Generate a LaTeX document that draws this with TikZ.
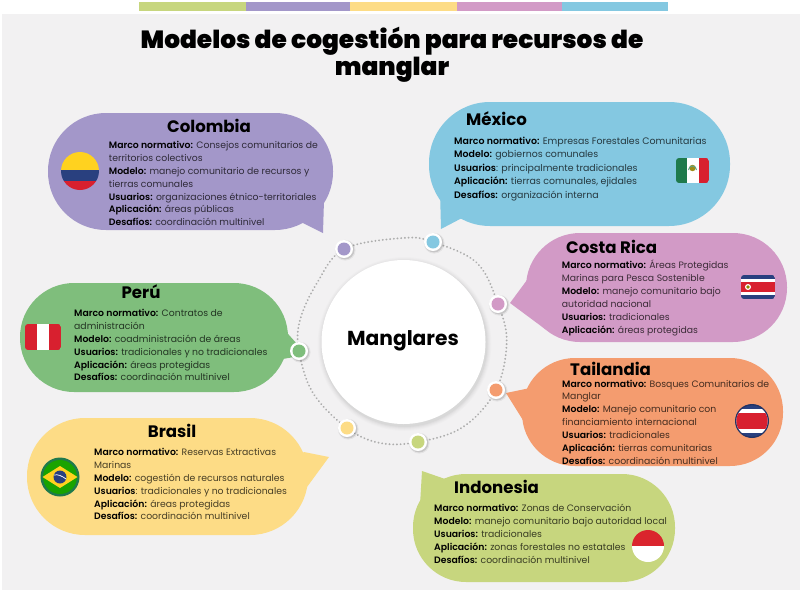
\documentclass[tikz,border=0pt]{standalone}
\usepackage{fontspec}
\setmainfont{Poppins}[BoldFont={Poppins SemiBold}]
\newfontfamily\heavyfont{Poppins Black}
\newfontfamily\headfont{Poppins Bold}
\definecolor{bgc}{HTML}{F2F1F2}
\definecolor{cpur}{HTML}{A397C9}
\definecolor{cblu}{HTML}{84C8E1}
\definecolor{cpin}{HTML}{D29AC6}
\definecolor{cora}{HTML}{F49C6F}
\definecolor{clim}{HTML}{C7D67E}
\definecolor{cyel}{HTML}{FDDC86}
\definecolor{cgre}{HTML}{7FBE7C}
\definecolor{flagred}{HTML}{D8202F}
\definecolor{flagblu}{HTML}{29407F}
\definecolor{flaggre}{HTML}{1F7A4C}
\definecolor{flagyel}{HTML}{FFD21F}
\newcommand\lb[1]{\textcolor{black}{\textbf{#1}}}
\tikzset{
  bubble/.style={inner sep=0pt,draw=none},
  head/.style={font=\headfont\fontsize{16.6}{18}\selectfont,text=black,anchor=mid,inner sep=0pt},
  body/.style={font=\fontsize{9.3}{12.88}\selectfont,align=left,anchor=north west,inner sep=0pt,text=#1!28!black},
  marker/.style={circle,fill=white,inner sep=0pt,minimum size=18pt},
  dotcore/.style={circle,fill=#1,inner sep=0pt,minimum size=13pt},
}
\newcommand\mkr[4]{% name colour x y
  \fill[black,opacity=.06] (#3+1.2,#4+1.2) circle[radius=10.4];
  \fill[black,opacity=.12] (#3+1,#4+1) circle[radius=9.4];
  \node[marker] (#1) at (#3,#4) {};
  \node[dotcore=#2] (#1c) at (#3,#4) {};
}
\begin{document}
\begin{tikzpicture}[x=1pt,y=-1pt]
\useasboundingbox (0,0) rectangle (800,592);
\fill[white] (0,0) rectangle (800,592);
\fill[bgc] (2,13.5) rectangle (800,590);
% top band
\fill[clim] (138.6,2) rectangle (245.7,10.7);
\fill[cpur] (245.7,2) rectangle (349.6,10.7);
\fill[cyel] (349.6,2) rectangle (457,10.7);
\fill[cpin] (457,2) rectangle (561.8,10.7);
\fill[cblu] (561.8,2) rectangle (668,10.7);
\node[font=\heavyfont\fontsize{24.85}{27}\selectfont,align=center,inner sep=0pt,text=black] (title) at (392,54.5) {Modelos de cogestión para recursos de\\manglar};
% bubbles
\node[bubble,fill=cpur,rounded corners=58pt,minimum width=285pt,minimum height=117pt] (colombia) at (190.5,171.5) {};
\fill[cpur] (324,200) -- (323,233) -- (303,223) -- (290,215) -- cycle;
\node[bubble,fill=cblu,rounded corners=61pt,minimum width=301pt,minimum height=124pt] (mexico) at (579.5,164) {};
\fill[cblu] (440,190) -- (441,229) -- (462,218) -- (480,205) -- cycle;
\node[bubble,fill=cpin,rounded corners=54pt,minimum width=261pt,minimum height=109pt] (costarica) at (656.5,287.5) {};
\fill[cpin] (527,280) -- (510,303) -- (545,329) -- (550,290) -- cycle;
\node[bubble,fill=cora,rounded corners=53pt,minimum width=261pt,minimum height=108pt] (tailandia) at (652.5,412) {};
\fill[cora] (535,387) -- (506,393) -- (526,425) -- (550,410) -- cycle;
\node[bubble,fill=clim,rounded corners=53pt,minimum width=262pt,minimum height=108pt] (indonesia) at (544,528) {};
\fill[clim] (448,480) -- (422,471) -- (420,505) -- (440,510) -- cycle;
\node[bubble,fill=cyel,rounded corners=58pt,minimum width=281pt,minimum height=117pt] (brasil) at (167.5,476.5) {};
\fill[cyel] (304,452) -- (329,457) -- (307,487) -- (285,470) -- cycle;
\node[bubble,fill=cgre,rounded corners=54pt,minimum width=268pt,minimum height=109pt] (peru) at (154,337.5) {};
\fill[cgre] (280,325) -- (298,345) -- (294,357) -- (277,360) -- (260,340) -- cycle;
% ring
\coordinate (r1) at (403,238); \coordinate (r2) at (477,263); \coordinate (r3) at (506.7,342);
\coordinate (r4) at (463,427); \coordinate (r5) at (380,443); \coordinate (r6) at (313,393);
\coordinate (r7) at (300,320); \coordinate (r8) at (317,283);
\coordinate (pmex) at (433,242); \coordinate (pcr) at (498,304); \coordinate (ptai) at (496,390);
\coordinate (pind) at (418,442); \coordinate (pbra) at (347,428); \coordinate (pper) at (299,351);
\coordinate (pcol) at (344,249);
\draw[black!32,line width=2pt,line cap=round,dash pattern=on 0.1pt off 3.6pt]
  plot[smooth cycle,tension=.6] coordinates {(r1) (pmex) (r2) (pcr) (r3) (ptai) (r4) (pind) (r5) (pbra) (r6) (pper) (r7) (r8) (pcol)};
% centre
\foreach \r/\o in {87/.012,86/.015,85/.02,84/.025,83/.03}{\fill[black,opacity=\o] (404.5,344) circle[radius=\r];}
\node[circle,fill=white,inner sep=0pt,minimum size=164pt] (centre) at (403.5,342) {};
\node[font=\headfont\fontsize{20.2}{22}\selectfont,text=black,anchor=mid,inner sep=0pt] (manglares) at (403,343) {Manglares};
% markers
\mkr{mcol}{cpur}{344}{249}
\mkr{mmex}{cblu}{433}{242}
\mkr{mcr}{cpin}{498}{304}
\mkr{mtai}{cora}{496}{390}
\mkr{mind}{clim}{418}{442}
\mkr{mbra}{cyel}{347}{428}
\mkr{mper}{cgre}{299}{351}
% titles
\node[head] (tcol) at (209,130) {Colombia};
\node[head,anchor=mid west] (tmex) at (466,123) {México};
\node[head,anchor=mid west] (tcr) at (566,251) {Costa Rica};
\node[head] (tper) at (141,296) {Perú};
\node[head] (tbra) at (172,435) {Brasil};
\node[head,anchor=mid west] (ttai) at (570,373) {Tailandia};
\node[head,anchor=mid west] (tind) at (454,491) {Indonesia};
% body
\node[body=cpur] (bcol) at (108.7,141) {\lb{Marco normativo:} Consejos comunitarios de\\territorios colectivos\\\lb{Modelo:} manejo comunitario de recursos y\\tierras comunales\\\lb{Usuarios:} organizaciones étnico-territoriales\\\lb{Aplicación:} áreas públicas\\\lb{Desafíos:} coordinación multinivel};
\node[body=cblu,font=\fontsize{9.42}{13.5}\selectfont] (bmex) at (454,136.7) {\lb{Marco normativo:} Empresas Forestales Comunitarias\\\lb{Modelo:} gobiernos comunales\\\lb{Usuarios}: principalmente tradicionales\\\lb{Aplicación:} tierras comunales, ejidales\\\lb{Desafíos:} organización interna};
\node[body=cpin] (bcr) at (561.7,260) {\lb{Marco normativo:} Áreas Protegidas\\Marinas para Pesca Sostenible\\\lb{Modelo:} manejo comunitario bajo\\autoridad nacional\\\lb{Usuarios:} tradicionales\\\lb{Aplicación:} áreas protegidas};
\node[body=cgre] (bper) at (74,309) {\lb{Marco normativo:} Contratos de\\administración\\\lb{Modelo:} coadministración de áreas\\\lb{Usuarios:} tradicionales y no tradicionales\\\lb{Aplicación:} áreas protegidas\\\lb{Desafíos:} coordinación multinivel};
\node[body=cyel] (bbra) at (94,448) {\lb{Marco normativo:} Reservas Extractivas\\Marinas\\\lb{Modelo:} cogestión de recursos naturales\\\lb{Usuarios}: tradicionales y no tradicionales\\\lb{Aplicación:} áreas protegidas\\\lb{Desafíos:} coordinación multinivel};
\node[body=cora] (btai) at (562,379.5) {\lb{Marco normativo:} Bosques Comunitarios de\\Manglar\\\lb{Modelo:} Manejo comunitario con\\financiamiento internacional\\\lb{Usuarios:} tradicionales\\\lb{Aplicación:} tierras comunitarias\\\lb{Desafíos:} coordinación multinivel};
\node[body=clim] (bind) at (434,504) {\lb{Marco normativo:} Zonas de Conservación\\\lb{Modelo:} manejo comunitario bajo autoridad local\\\lb{Usuarios:} tradicionales\\\lb{Aplicación:} zonas forestales no estatales\\\lb{Desafíos:} coordinación multinivel};
% flags
\begin{scope}
\clip (80,171) circle[radius=19];
\fill[flagyel] (60,150) rectangle (100,170);
\fill[flagblu] (60,170) rectangle (100,181);
\fill[flagred] (60,181) rectangle (100,192);
\end{scope}
\begin{scope}
\clip[rounded corners=3pt] (676,158) rectangle (709,183);
\fill[flaggre] (676,158) rectangle (687,183);
\fill[white] (687,158) rectangle (698.5,183);
\fill[flagred] (698.5,158) rectangle (709,183);
\fill[olive!70!brown] (692.5,168) circle[radius=3.2];
\draw[flaggre!70,line width=1pt] (688.5,170) arc[start angle=180,end angle=0,radius=4,y radius=-4];
\end{scope}
\begin{scope}
\clip[rounded corners=3pt] (741,275) rectangle (775,299);
\fill[flagblu] (741,275) rectangle (775,299);
\fill[white] (741,279) rectangle (775,295);
\fill[flagred] (741,282) rectangle (775,292);
\fill[white] (748,287) circle[radius=3];
\fill[olive] (748,287) circle[radius=1.8];
\end{scope}
\begin{scope}
\clip[rounded corners=3pt] (25,324) rectangle (61,350);
\fill[flagred] (25,324) rectangle (61,350);
\fill[white] (37,324) rectangle (49,350);
\end{scope}
\fill[flaggre] (60,477) circle[radius=19.5];
\fill[green!60!black!90!yellow] (60,477) circle[radius=17];
\fill[flagyel] (42.5,477) -- (60,466) -- (77.5,477) -- (60,488) -- cycle;
\fill[flagblu] (60,477) circle[radius=6.5];
\draw[white,line width=.7pt] (54,475) .. controls (58,474) and (62,476) .. (66,479);
\fill[flagblu!80!black] (752,421) circle[radius=17];
\begin{scope}
\clip (752,421) circle[radius=15.6];
\fill[flagblu] (730,400) rectangle (775,445);
\fill[white] (730,409) rectangle (775,433);
\fill[flagred] (730,413) rectangle (775,429);
\end{scope}
\begin{scope}
\clip (648,546) circle[radius=16];
\fill[flagred!95!orange] (630,528) rectangle (666,546);
\fill[white] (630,546) rectangle (666,564);
\end{scope}
\end{tikzpicture}
\end{document}
